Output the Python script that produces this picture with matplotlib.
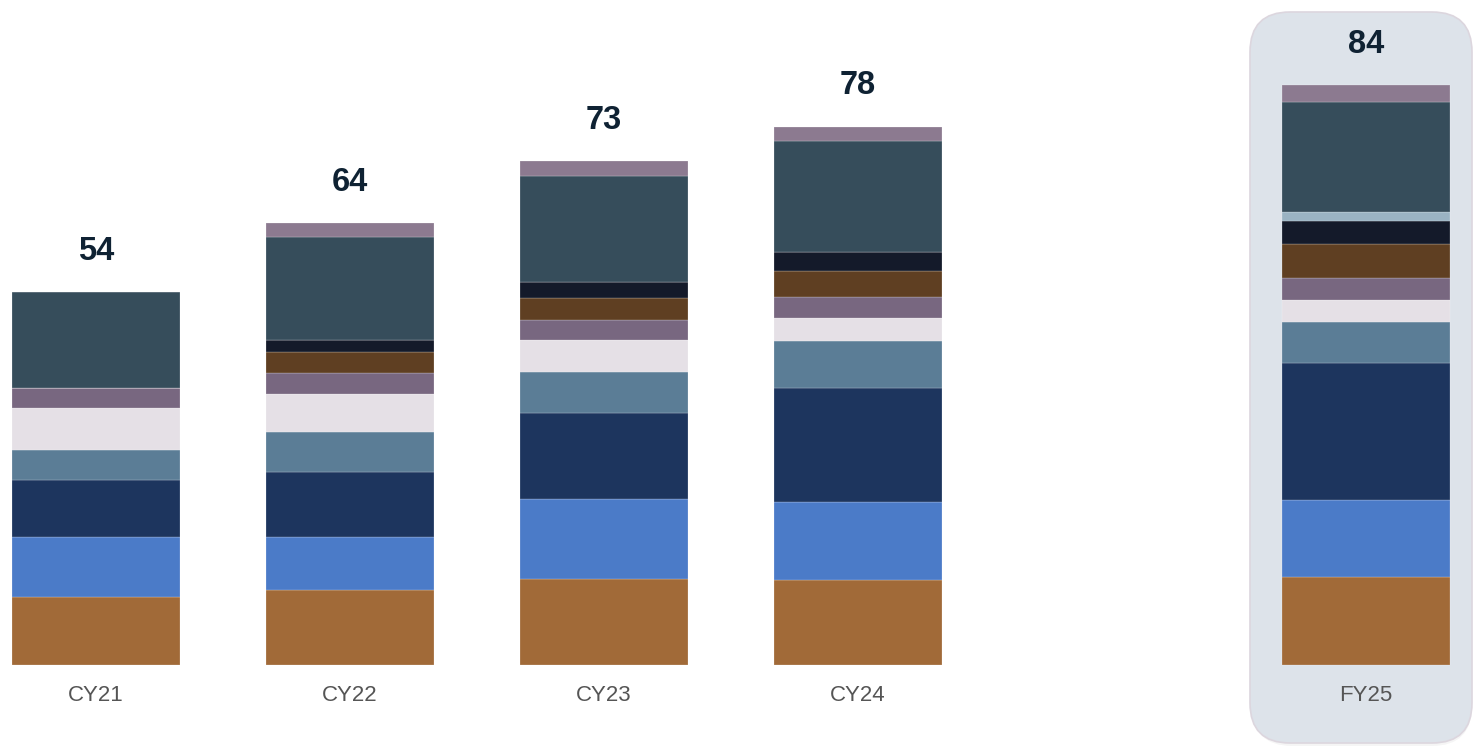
import matplotlib

matplotlib.use("Agg")
import matplotlib.pyplot as plt
import numpy as np
from matplotlib.patches import FancyBboxPatch

plt.rcParams["font.family"] = ["Liberation Sans", "DejaVu Sans"]

# categories and stacked segment values (bottom -> top)
periods = ["CY21", "CY22", "CY23", "CY24", "FY25"]
x_pos = [0, 1, 2, 3, 5]
totals = [54, 64, 73, 78, 84]

seg_brown = [9.8, 10.9, 12.5, 12.3, 12.7]
seg_blue = [8.8, 7.7, 11.6, 11.3, 11.2]
seg_navy = [8.2, 9.4, 12.4, 16.6, 19.8]
seg_steel = [4.3, 5.7, 5.9, 6.7, 6.0]
seg_light = [6.2, 5.6, 4.7, 3.4, 3.2]
seg_purple = [2.8, 3.0, 2.9, 3.1, 3.2]
seg_darkbrown = [0.0, 3.1, 3.2, 3.7, 4.9]
seg_black = [0.0, 1.7, 2.3, 2.8, 3.3]
seg_paleblue = [0.0, 0.0, 0.0, 0.0, 1.3]
seg_slate = [13.9, 15.0, 15.4, 16.1, 16.0]
seg_mauve = [0.0, 1.9, 2.1, 2.0, 2.4]

segments = [
    (seg_brown, "#A16A38"),
    (seg_blue, "#4B7BC8"),
    (seg_navy, "#1D355E"),
    (seg_steel, "#5B7D96"),
    (seg_light, "#E5E0E6"),
    (seg_purple, "#786780"),
    (seg_darkbrown, "#5F3F22"),
    (seg_black, "#141A2A"),
    (seg_paleblue, "#9AB3C3"),
    (seg_slate, "#364D5B"),
    (seg_mauve, "#8C7A90"),
]

W, H = 1473, 749
fig = plt.figure(figsize=(W / 100, H / 100), dpi=100)

# pixel-space background layer for the highlight panel behind FY25
bg = fig.add_axes([0, 0, 1, 1], zorder=0)
bg.set_xlim(0, W)
bg.set_ylim(H, 0)
bg.axis("off")
shadow = FancyBboxPatch((1252, 15), 220, 731, boxstyle="round,pad=0,rounding_size=40",
                        facecolor="#000000", alpha=0.04, edgecolor="none")
panel = FancyBboxPatch((1250, 12), 222, 731, boxstyle="round,pad=0,rounding_size=40",
                       facecolor="#DDE3EA", edgecolor="#DCD6DE", linewidth=1.2)
bg.add_patch(shadow)
bg.add_patch(panel)

ax = fig.add_axes([0, 0, 1, 1], zorder=1)
ax.patch.set_alpha(0)
px_per_x = 254.0
px_per_y = 6.9
x0_px, base_px = 96.0, 665.0
ax.set_xlim(-x0_px / px_per_x, (W - x0_px) / px_per_x)
ax.set_ylim(-(H - base_px) / px_per_y, base_px / px_per_y)
ax.axis("off")

bottom = np.zeros(len(periods))
for vals, color in segments:
    v = np.array(vals)
    ax.bar(x_pos, v, width=0.665, bottom=bottom, color=color,
           edgecolor=(1, 1, 1, 0.5), linewidth=0.3)
    bottom += v

for x, t in zip(x_pos, totals):
    ax.text(x, t + 4.7, f"{t}", ha="center", va="baseline",
            fontsize=23.5, fontweight="bold", color="#0F2233")

for x, name in zip(x_pos, periods):
    ax.text(x, -5.2, name, ha="center", va="baseline",
            fontsize=16, color="#555555")

fig.savefig("out.png", dpi=100)
plt.close(fig)
